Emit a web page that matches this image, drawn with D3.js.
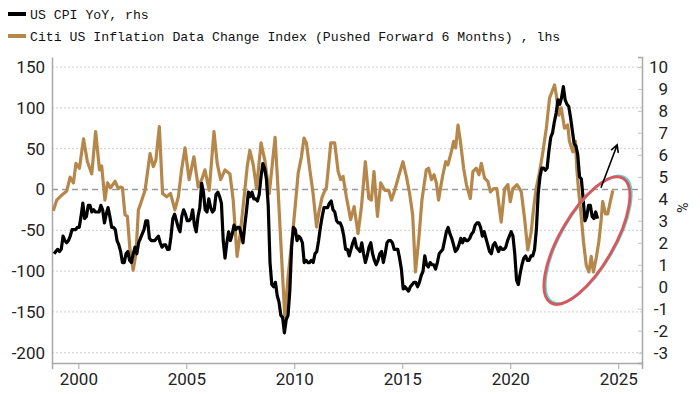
<!DOCTYPE html>
<html>
<head>
<meta charset="utf-8">
<script src="https://cdn.jsdelivr.net/npm/d3@7"></script>
<style>
  body { margin: 0; background: #fff; }
  svg { display: block; }
</style>
</head>
<body>
<div class="chart"></div>
<script>
// US CPI YoY (%), monthly from Nov 1998
const cpiStart = [1998, 11];
const cpiYoY = [
  1.5, 1.6,
  1.7, 1.6, 1.7, 2.3, 2.1, 2.0, 2.1, 2.3, 2.6, 2.6, 2.6, 2.7,
  2.7, 3.2, 3.8, 3.1, 3.2, 3.7, 3.7, 3.4, 3.5, 3.4, 3.4, 3.4,
  3.7, 3.5, 2.9, 3.3, 3.6, 3.2, 2.7, 2.7, 2.6, 2.1, 1.9, 1.6,
  1.1, 1.1, 1.5, 1.6, 1.2, 1.1, 1.5, 1.8, 1.5, 2.0, 2.2, 2.4,
  2.6, 3.0, 3.0, 2.2, 2.1, 2.1, 2.1, 2.2, 2.3, 2.0, 1.8, 1.9,
  1.9, 1.7, 1.7, 2.3, 3.1, 3.3, 3.0, 2.7, 2.5, 3.2, 3.5, 3.3,
  3.0, 3.0, 3.1, 3.5, 2.8, 2.5, 3.2, 3.6, 4.7, 4.3, 3.5, 3.4,
  4.0, 3.6, 3.4, 3.5, 4.2, 4.3, 4.1, 3.8, 2.1, 1.3, 2.0, 2.5,
  2.1, 2.4, 2.8, 2.6, 2.7, 2.7, 2.4, 2.0, 2.8, 3.5, 4.3, 4.1,
  4.3, 4.0, 4.0, 3.9, 4.2, 5.0, 5.6, 5.4, 4.9, 3.7, 1.1, 0.1,
  0.0, 0.2, -0.4, -0.7, -1.3, -1.4, -2.1, -1.5, -1.3, -0.2, 1.8, 2.7,
  2.6, 2.1, 2.3, 2.2, 2.0, 1.1, 1.2, 1.1, 1.1, 1.2, 1.1, 1.5,
  1.6, 2.1, 2.7, 3.2, 3.6, 3.6, 3.6, 3.8, 3.9, 3.5, 3.4, 3.0,
  2.9, 2.9, 2.7, 2.3, 1.7, 1.7, 1.4, 1.7, 2.0, 2.2, 1.8, 1.7,
  1.6, 2.0, 1.5, 1.1, 1.4, 1.8, 2.0, 1.5, 1.2, 1.0, 1.2, 1.5,
  1.6, 1.1, 1.5, 2.0, 2.1, 2.1, 2.0, 1.7, 1.7, 1.7, 1.3, 0.8,
  -0.1, 0.0, -0.1, -0.2, 0.0, 0.1, 0.2, 0.2, 0.0, 0.2, 0.5, 0.7,
  1.4, 1.0, 0.9, 1.1, 1.0, 1.0, 0.8, 1.1, 1.5, 1.6, 1.7, 2.1,
  2.5, 2.7, 2.4, 2.2, 1.9, 1.6, 1.7, 1.9, 2.2, 2.0, 2.2, 2.1,
  2.1, 2.2, 2.4, 2.5, 2.8, 2.9, 2.9, 2.7, 2.3, 2.5, 2.2, 1.9,
  1.6, 1.5, 1.9, 2.0, 1.8, 1.6, 1.8, 1.7, 1.7, 1.8, 2.1, 2.3,
  2.5, 2.3, 1.5, 0.3, 0.1, 0.6, 1.0, 1.3, 1.4, 1.2, 1.2, 1.4,
  1.4, 1.7, 2.6, 4.2, 5.0, 5.4, 5.4, 5.3, 5.4, 6.2, 6.8, 7.0,
  7.5, 7.9, 8.5, 8.3, 8.6, 9.1, 8.5, 8.3, 8.2, 7.7, 7.1, 6.5,
  6.4, 6.0, 5.0, 4.9, 4.0, 3.0, 3.2, 3.7, 3.7, 3.2, 3.1, 3.4,
  3.1
];

// Citi US Inflation Data Change Index, pushed forward 6 months: [year, value]
const citiIndex = [
  [1998.84,-26],[1999.00,-13],[1999.23,-7],[1999.46,-2],[1999.62,15],[1999.77,8],[1999.89,32],
  [2000.05,26],[2000.24,62],[2000.42,34],[2000.62,19],[2000.80,71],[2000.98,24],[2001.08,29],
  [2001.23,-13],[2001.35,8],[2001.49,2],[2001.70,10],[2001.85,1],[2001.95,3],[2002.04,2],
  [2002.16,-31],[2002.27,-33],[2002.39,-74],[2002.54,-99],[2002.67,-78],[2002.78,-25],[2002.89,-17],
  [2003.09,-1],[2003.32,44],[2003.47,28],[2003.59,36],[2003.75,77],[2003.90,-5],[2004.09,-9],
  [2004.27,-5],[2004.47,-25],[2004.63,-9],[2004.78,24],[2004.94,51],[2005.13,12],[2005.35,40],
  [2005.55,3],[2005.71,12],[2005.86,24],[2006.06,-1],[2006.28,71],[2006.43,32],[2006.59,12],
  [2006.79,24],[2007.02,19],[2007.17,-13],[2007.35,-82],[2007.48,-58],[2007.63,-21],[2007.82,28],
  [2007.94,48],[2008.10,30],[2008.25,1],[2008.46,57],[2008.64,35],[2008.84,-5],[2009.11,64],
  [2009.25,-1],[2009.41,-82],[2009.56,-156],[2009.71,-107],[2009.94,-50],[2010.18,20],[2010.33,40],
  [2010.45,63],[2010.56,57],[2010.72,24],[2010.87,-5],[2011.03,-46],[2011.13,-29],[2011.29,-9],
  [2011.49,3],[2011.69,57],[2011.87,57],[2012.03,22],[2012.15,12],[2012.26,16],[2012.41,-9],
  [2012.61,-37],[2012.77,-21],[2012.95,-54],[2013.11,-21],[2013.29,34],[2013.45,-11],[2013.57,-13],
  [2013.69,22],[2013.85,-33],[2014.00,8],[2014.19,-1],[2014.37,-1],[2014.50,-13],[2014.65,-1],
  [2014.83,16],[2015.03,34],[2015.19,16],[2015.34,-5],[2015.48,-31],[2015.61,-101],[2015.76,-62],
  [2015.91,-13],[2016.11,24],[2016.22,26],[2016.35,12],[2016.47,18],[2016.58,8],[2016.68,-13],
  [2016.81,8],[2016.88,18],[2017.01,34],[2017.11,30],[2017.27,46],[2017.38,59],[2017.47,51],
  [2017.58,79],[2017.69,59],[2017.84,26],[2017.97,6],[2018.15,-11],[2018.27,22],[2018.43,26],
  [2018.55,18],[2018.66,32],[2018.81,14],[2018.96,10],[2019.08,-3],[2019.23,1],[2019.38,1],
  [2019.58,-40],[2019.74,1],[2019.89,6],[2020.00,-15],[2020.12,1],[2020.31,6],[2020.43,1],
  [2020.51,-3],[2020.66,-35],[2020.81,-74],[2020.97,-52],[2021.08,-23],[2021.20,1],[2021.36,22],
  [2021.51,46],[2021.67,75],[2021.82,112],[2022.05,128],[2022.13,116],[2022.25,91],[2022.36,100],
  [2022.51,75],[2022.66,79],[2022.74,59],[2022.90,46],[2023.02,59],[2023.08,26],[2023.17,-3],
  [2023.28,-31],[2023.39,-64],[2023.52,-93],[2023.64,-101],[2023.75,-82],[2023.85,-101],[2023.98,-84],
  [2024.10,-64],[2024.21,-37],[2024.28,-15],[2024.41,-30],[2024.51,-30],[2024.63,-15],[2024.75,-1]
];

const leftTicks = [-200, -150, -100, -50, 0, 50, 100, 150];
const rightTicks = [-3, -2, -1, 0, 1, 2, 3, 4, 5, 6, 7, 8, 9, 10];
const yearTicks = [2000, 2005, 2010, 2015, 2020, 2025];
const legendLabels = [
  "US CPI YoY, rhs",
  "Citi US Inflation Data Change Index (Pushed Forward 6 Months) , lhs"
];

const W = 700, H = 394;
const margin = ({top: 57, right: 58, bottom: 31, left: 52});
const width = W - margin.left - margin.right,
      height = H - margin.top - margin.bottom;

const gold = "#b6874b";
const axisGrey = "#a9a9a9";
const labelFont = "Roboto, 'Noto Sans', sans-serif";

const cpi = cpiYoY.map(function(v, i) {
  const m = cpiStart[1] - 1 + i;
  return {t: cpiStart[0] + Math.floor(m / 12) + ((m % 12) + 0.5) / 12, v: v};
});
const citi = citiIndex.map(function(d) { return {t: d[0], v: d[1]}; });

const xScale = d3.scaleLinear().domain([1998.78, 2026.1]).range([0, width]);
const yLeft = d3.scaleLinear().domain([-212.6, 162.3]).range([height, 0]);
const yRight = d3.scaleLinear().domain([-3.47, 10.45]).range([height, 0]);

const svg = d3.select(".chart").append("svg")
    .attr("width", W)
    .attr("height", H);

const g = svg.append("g")
    .attr("transform", "translate(" + margin.left + "," + margin.top + ")");

// gridlines
g.append("g")
  .selectAll("line")
  .data(leftTicks)
  .join("line")
    .attr("x1", 0)
    .attr("x2", width)
    .attr("y1", d => yLeft(d))
    .attr("y2", d => yLeft(d))
    .attr("stroke", d => d === 0 ? "#9a9a9a" : "#cfcfcf")
    .attr("stroke-width", d => d === 0 ? 1.4 : 1)
    .attr("stroke-dasharray", d => d === 0 ? "6,4" : "2,2");

// left axis
const yAxisLeft = d3.axisLeft(yLeft)
    .tickValues(leftTicks)
    .tickSize(0)
    .tickPadding(7)
    .tickFormat(d => d < 0 ? "-" + Math.abs(d) : d);
g.append("g")
    .attr("class", "y-axis")
    .call(yAxisLeft)
    .call(a => a.select(".domain").attr("stroke", axisGrey).attr("stroke-width", 1.5))
    .call(a => a.selectAll("text")
        .attr("font-family", labelFont)
        .attr("font-size", 17)
        .attr("fill", "#222"));

// right axis
const yAxisRight = d3.axisRight(yRight)
    .tickValues(rightTicks)
    .tickSize(-4)
    .tickPadding(0)
    .tickFormat(d => d < 0 ? "-" + Math.abs(d) : d);
g.append("g")
    .attr("class", "y-axis-right")
    .attr("transform", "translate(" + width + ",0)")
    .call(yAxisRight)
    .call(a => a.select(".domain").attr("stroke", axisGrey).attr("stroke-width", 1.5))
    .call(a => a.selectAll(".tick line").attr("stroke", "#c4c4c4"))
    .call(a => a.selectAll("text")
        .attr("text-anchor", "end")
        .attr("x", 26)
        .attr("font-family", labelFont)
        .attr("font-size", 17)
        .attr("fill", "#222"));

g.append("text")
    .attr("transform", "translate(" + (width + 35) + "," + yRight(3.6) + ") rotate(90)")
    .attr("text-anchor", "middle")
    .attr("font-family", labelFont)
    .attr("font-size", 14)
    .attr("fill", "#222")
    .text("%");

// x axis
const xAxis = d3.axisBottom(xScale)
    .tickValues(yearTicks)
    .tickSize(6)
    .tickPadding(4)
    .tickFormat(d3.format("d"));
g.append("g")
    .attr("class", "x-axis")
    .attr("transform", "translate(0," + height + ")")
    .call(xAxis)
    .call(a => a.select(".domain").attr("stroke", axisGrey).attr("stroke-width", 1.5))
    .call(a => a.selectAll(".tick line").attr("stroke", axisGrey))
    .call(a => a.selectAll("text")
        .attr("font-family", labelFont)
        .attr("font-size", 17)
        .attr("fill", "#222"));

// lines
const lineLeft = d3.line()
    .x(d => xScale(d.t))
    .y(d => yLeft(d.v));
const lineRight = d3.line()
    .x(d => xScale(d.t))
    .y(d => yRight(d.v));

g.append("path")
    .datum(citi)
    .attr("fill", "none")
    .attr("stroke", gold)
    .attr("stroke-width", 3.2)
    .attr("stroke-linejoin", "round")
    .attr("d", lineLeft);

g.append("path")
    .datum(cpi)
    .attr("fill", "none")
    .attr("stroke", "#000")
    .attr("stroke-width", 3.2)
    .attr("stroke-linejoin", "round")
    .attr("d", lineRight);

// annotation: ellipse + arrow
const ex = xScale(2023.55), ey = yRight(2.1);
[["#5fd6d8", 1.5, -1], ["#d8585e", 0, 0]].forEach(function(s) {
  g.append("ellipse")
      .attr("transform", "translate(" + (ex + s[1]) + "," + (ey + s[2]) + ") rotate(-60)")
      .attr("rx", 72)
      .attr("ry", 27)
      .attr("fill", "none")
      .attr("stroke", s[0])
      .attr("stroke-width", s[1] ? 2.5 : 3);
});

const a0 = [xScale(2024.2), yRight(4.5)],
      a1 = [xScale(2024.95), yRight(6.45)];
const ang = Math.atan2(a1[1] - a0[1], a1[0] - a0[0]);
const head = 8;
g.append("path")
    .attr("fill", "none")
    .attr("stroke", "#000")
    .attr("stroke-width", 1.6)
    .attr("d", "M" + a0 + "L" + a1 +
      "M" + [a1[0] - head * Math.cos(ang - 0.5), a1[1] - head * Math.sin(ang - 0.5)] +
      "L" + a1 +
      "L" + [a1[0] - head * Math.cos(ang + 0.5), a1[1] - head * Math.sin(ang + 0.5)]);

// legend
const legend = svg.append("g");
legend.selectAll("rect")
  .data(legendLabels)
  .join("rect")
    .attr("x", 8)
    .attr("y", (d, i) => 12 + i * 22)
    .attr("width", 18)
    .attr("height", 4)
    .attr("fill", (d, i) => i === 0 ? "#000" : gold);
legend.selectAll("text")
  .data(legendLabels)
  .join("text")
    .attr("x", 30)
    .attr("y", (d, i) => 18.5 + i * 22.5)
    .attr("font-family", "'Liberation Mono', 'DejaVu Sans Mono', monospace")
    .attr("font-size", 13.2)
    .attr("fill", "#111")
    .text(d => d);
</script>
</body>
</html>
